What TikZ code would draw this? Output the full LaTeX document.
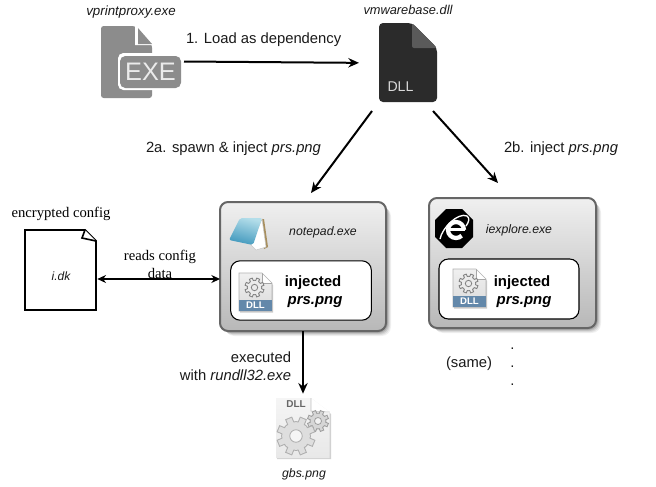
\documentclass[tikz,border=0pt]{standalone}
\usepackage{fontspec}
\setmainfont{Liberation Sans}
\newfontfamily\serifcfg{Liberation Serif}
\usetikzlibrary{arrows.meta}
\definecolor{txt}{HTML}{1A1A1A}
\definecolor{exegray}{HTML}{8C8C8C}
\definecolor{dlldark}{HTML}{2B2B2B}
\definecolor{dllfold}{HTML}{5A5A5A}
\definecolor{boxedge}{HTML}{666666}
\definecolor{dllblue}{HTML}{6388AA}
\definecolor{padlight}{HTML}{B4DEEA}
\definecolor{paddark}{HTML}{3F97BC}
\definecolor{padedge}{HTML}{A88F5E}
\tikzset{
  lab/.style={inner sep=0pt,outer sep=0pt,text=txt,font=\fontsize{11.1}{13.5}\selectfont},
  boldlab/.style={inner sep=0pt,outer sep=0pt,text=black,anchor=base,font=\fontsize{11.2}{13.5}\selectfont\bfseries},
  prslab/.style={inner sep=0pt,outer sep=0pt,text=black,anchor=base,font=\fontsize{11.2}{13.5}\selectfont\bfseries\itshape},
  smalllab/.style={inner sep=0pt,outer sep=0pt,text=txt,anchor=base,font=\fontsize{9.2}{12}\selectfont\itshape},
  seriflab/.style={inner sep=0pt,outer sep=0pt,text=black,font=\serifcfg\fontsize{11}{13.5}\selectfont,align=center},
  icon/.style={inner sep=0pt,outer sep=0pt,minimum width=#1},
  procbox/.style={draw=boxedge,line width=1.5pt,rounded corners=6pt,top color=white!94!black,bottom color=black!28,shading angle=0,inner sep=0pt,outer sep=0pt},
  innerbox/.style={draw=black,line width=0.8pt,fill=white,rounded corners=7pt,inner sep=0pt,outer sep=0pt},
  arrowline/.style={draw=black,line width=1.5pt,-{Stealth[length=8pt,width=7pt]}},
  doubleline/.style={draw=black,line width=0.9pt,{Stealth[length=6.5pt,width=6pt]}-{Stealth[length=6.5pt,width=6pt]}},
}
% cx cy outer-radius tooth-width edge fill hole
\newcommand{\gearsolid}[7]{%
  \begin{scope}[shift={(#1,#2)}]
    \fill[#5] (0,0) circle ({#3*0.76});
    \foreach \ang in {0,45,...,315}{\draw[#5,line width=#4*0.75pt] (\ang+22.5:{#3*0.5}) -- (\ang+22.5:#3);}
    \fill[#6] (0,0) circle ({#3*0.76-1});
    \foreach \ang in {0,45,...,315}{\draw[#6,line width=(#4-2)*0.75pt] (\ang+22.5:{#3*0.5}) -- (\ang+22.5:#3-1);}
    \fill[#7,draw=#5,line width=0.6pt] (0,0) circle ({#3*0.32});
  \end{scope}}
\newcommand{\smalldll}[2]{%
  \begin{scope}[shift={(#1,#2)}]
    \fill[black!20] (1,1.5) -- (23.5,1.5) -- (34,12) -- (34,39.5) -- (1,39.5) -- cycle;
    \shade[top color=black!6,bottom color=black!14] (0,0) -- (23,0) -- (33,10) -- (33,38) -- (0,38) -- cycle;
    \fill[white] (23,0) -- (33,10) -- (23,10) -- cycle;
    \draw[black!35,line width=0.4pt] (23,0) -- (23,10) -- (33,10);
    \draw[black!30,line width=0.4pt] (0,0) -- (23,0) -- (33,10) -- (33,38) -- (0,38) -- cycle;
    \fill[dllblue] (0,27) rectangle (33,38);
    \gearsolid{15.5}{14.5}{10}{4}{black!50}{black!8}{black!8}
  \end{scope}}
\begin{document}
\begin{tikzpicture}[x=0.75pt,y=-0.75pt]
\useasboundingbox (0,0) rectangle (656,486);
\fill[white] (0,0) rectangle (656,486);

% --- EXE icon
\node[icon=63pt,minimum height=54pt] (exe) at (142,61.5) {};
\fill[exegray,rounded corners=2pt] (101,26) -- (135,26) -- (152,45) -- (152,98) -- (101,98) -- cycle;
\fill[white] (135,26) -- (137,26) -- (152,43) -- (152,45) -- (135,45) -- cycle;
\fill[exegray] (138,28) -- (152,44) -- (138,44) -- cycle;
\fill[white,rounded corners=4pt] (118,53) rectangle (184,90);
\fill[exegray,rounded corners=4pt] (120,56) rectangle (181,88);
\node[inner sep=0pt,outer sep=0pt,text=white!92!black,font=\fontsize{19}{20}\selectfont] (exetext) at (150.5,72) {EXE};

% --- dark DLL icon
\node[icon=43.5pt,minimum height=60pt] (dll) at (408,63) {};
\fill[dlldark,rounded corners=3pt] (379,23) -- (412,23) -- (437,48) -- (437,102) -- (379,102) -- cycle;
\fill[dllfold,rounded corners=1.5pt] (412,23) -- (437,48) -- (412,48) -- cycle;
\node[inner sep=0pt,outer sep=0pt,text=white!85!black,font=\fontsize{10.6}{12}\selectfont] (dlltext) at (400.5,87) {DLL};

\node[smalllab,font=\fontsize{10}{12}\selectfont\itshape] (exename) at (131,15.5) {vprintproxy.exe};
\node[smalllab,font=\fontsize{9.6}{12}\selectfont\itshape] (dllname) at (408,14.5) {vmwarebase.dll};

% --- process boxes with soft shadow
\foreach \off/\op in {5/0.06,4/0.08,3/0.10,2/0.14}{
  \fill[black,opacity=\op,rounded corners=7pt] (220+\off,202+\off) rectangle (386+\off,331+\off);
  \fill[black,opacity=\op,rounded corners=7pt] (429+\off,198+\off) rectangle (596+\off,328+\off);
}
\node[procbox,minimum width=124.5pt,minimum height=96.75pt] (notepad) at (303,266.5) {};
\node[procbox,minimum width=125.25pt,minimum height=97.5pt] (iexplore) at (512.5,263) {};
\node[innerbox,minimum width=105.5pt,minimum height=44.5pt] (inj1) at (301,290.5) {};
\node[innerbox,minimum width=105pt,minimum height=45pt] (inj2) at (509,289) {};

% --- notepad icon
\fill[padedge] (262,219) -- (264,219) -- (268,247) -- (264,249) -- cycle;
\fill[white,draw=black!22,line width=0.4pt] (262,219) -- (266,247) -- (256,250) -- (251,245) -- cycle;
\shade[top color=padlight,bottom color=paddark,shading angle=-15,rounded corners=1.5pt] (240,218) -- (262,218) -- (253,245) -- (229,240) -- cycle;

\node[smalllab] (npname) at (323,235) {notepad.exe};
\node[boldlab] (inja) at (313,286) {injected};
\node[prslab] (prsa) at (315,304.5) {prs.png};
\smalldll{239}{273}
\node[inner sep=0pt,outer sep=0pt,text=white,font=\fontsize{7.2}{8}\selectfont\bfseries] (dllsa) at (255.5,305.5) {DLL};

% --- iexplore icon
\fill[black] (446,209) -- (462,209) -- (473,220) -- (473,237) -- (462,248) -- (446,248) -- (435,237) -- (435,220) -- cycle;
\draw[white,line width=3.2pt] (464,230) arc[start angle=0,end angle=-315,radius=8];
\draw[white,line width=2.4pt] (449,229.5) -- (465,229.5);
\draw[white,line width=1pt] (440,239) .. controls (442,228) and (458,212) .. (467,216) .. controls (470,218) and (469,222) .. (466,226);

\node[smalllab] (ieName) at (519,233) {iexplore.exe};
\node[boldlab] (injb) at (522,286) {injected};
\node[prslab] (prsb) at (524,304.5) {prs.png};
\smalldll{453}{269}
\node[inner sep=0pt,outer sep=0pt,text=white,font=\fontsize{7.2}{8}\selectfont\bfseries] (dllsb) at (469.5,301.5) {DLL};

% --- config file
\node[icon=53.25pt,minimum height=60pt] (cfg) at (60.5,270) {};
\draw[black,line width=1.4pt,fill=white] (25,230) -- (85,230) -- (96,241) -- (96,310) -- (25,310) -- cycle;
\draw[black,line width=1.2pt,fill=white] (85,230) -- (82,238) -- (96,241);
\node[seriflab] (cfgtitle) at (61,214) {encrypted config};
\node[smalllab,font=\fontsize{9}{12}\selectfont\itshape] (cfgname) at (61,280) {i.dk};

% --- gbs icon
\node[icon=40.5pt,minimum height=46pt] (gbs) at (303,427) {};
\fill[black!18] (277,399) -- (312,399) -- (331,414) -- (331,459) -- (277,459) -- cycle;
\shade[top color=black!4,bottom color=black!9] (276,398) -- (311,398) -- (329.5,412) -- (329.5,458) -- (276,458) -- cycle;
\fill[white] (311,398) -- (329.5,412) -- (311,411) -- cycle;
\draw[black!25,line width=0.4pt] (311,398) -- (311,411) -- (329.5,412);
\node[inner sep=0pt,outer sep=0pt,text=black!60,font=\fontsize{7.5}{8}\selectfont\bfseries] (gbsdll) at (296,404.5) {DLL};
\gearsolid{318}{421}{11}{4.5}{black!38}{black!16}{black!5}
\gearsolid{296}{436}{19.5}{7.5}{black!32}{black!13}{black!4}

\node[smalllab] (gbsname) at (304,477) {gbs.png};

% --- connectors
\coordinate (dlloutl) at (372,111);
\coordinate (dlloutr) at (433,111);
\coordinate (npin) at (311,193);
\coordinate (iein) at (498,183);
\coordinate (cfgrow) at (0,279);
\draw[arrowline,shorten >=15pt] (exe.east) -- (dll.west);
\draw[arrowline] (dlloutl) -- (npin);
\draw[arrowline] (dlloutr) -- (iein);
\draw[doubleline,shorten <=1pt] (cfg.east |- cfgrow) -- (notepad.west |- cfgrow);
\draw[arrowline,shorten >=2pt] (notepad.south) -- (gbs.north);

% --- labels
\node[lab,anchor=base west] (l1) at (186,43) {1. Load as dependency};
\node[lab,anchor=base west] (l2a) at (146,152) {2a. spawn \& inject \textit{prs.png}};
\node[lab,anchor=base west] (l2b) at (504,152) {2b. inject \textit{prs.png}};
\node[seriflab] (lread) at (160,264) {reads config\\data};
\node[lab,anchor=east,align=right] (lexec) at (291,366) {executed\hspace{3pt}\\with \textit{rundll32.exe}};
\node[lab,anchor=base west] (lsame) at (446,367) {(same)};
\node[lab,anchor=base] (d1) at (512.5,349) {.};
\node[lab,anchor=base] (d2) at (512.5,367) {.};
\node[lab,anchor=base] (d3) at (512.5,385) {.};
\end{tikzpicture}
\end{document}
